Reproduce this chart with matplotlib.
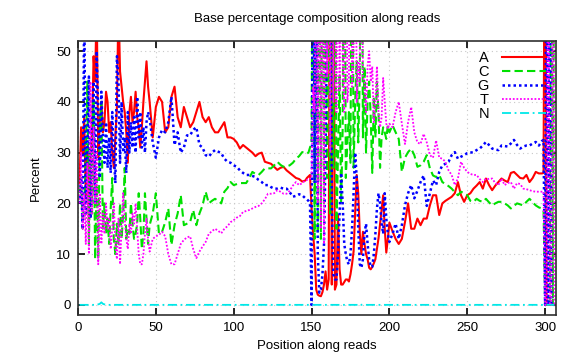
import matplotlib
matplotlib.use('Agg')
import matplotlib.pyplot as plt

plt.rcParams['font.family'] = ['Liberation Sans', 'DejaVu Sans']

# positions along reads (dense where the curves are noisy)
positions = (list(range(1, 47)) + list(range(48, 147, 2)) + list(range(147, 201))
             + list(range(202, 299, 2)) + list(range(299, 307)))

base_a = [
    24, 35, 30, 37, 21, 31, 16, 29, 33, 49,
    44, 60, 29, 36, 40, 34, 36, 42, 40, 34,
    36, 30, 27, 33, 39, 60, 46, 43, 40, 38,
    34, 28, 38, 41, 36, 38, 42, 37, 35, 31,
    35, 40, 44, 48, 43, 40,
    33, 39, 41, 40, 34, 35, 41, 43, 37, 35,
    39, 37, 35, 36, 38, 40, 37, 36, 37, 35,
    34, 34, 35, 36, 33, 33, 32.7, 32, 30.8, 31.5,
    31, 30.5, 30, 29.3, 29.8, 30, 28.2, 28, 27.8, 27.2,
    26.6, 27, 27.2, 26.5, 26, 25.5, 25, 24.8, 24.3, 24.5,
    25, 25.3, 25.6, 19, 14, 10, 3, 2, 1.8, 1.7,
    2.5, 4, 6.6, 3, 5, 100, 4, 100, 3, 4,
    17.7, 7, 4, 4, 4.5, 5, 5, 4.6, 6, 8,
    10.5, 18, 25.6, 22, 14, 10, 14.4, 12, 10, 9,
    7.3, 7, 7.5, 8.2, 9, 11, 13.1, 16, 19, 21.6,
    15, 10.3, 13, 16.2,
    14.5, 13, 12, 13, 16.3, 20, 15, 15, 17, 15.7,
    17, 17, 19.6, 21.6, 21.6, 17.7, 20, 20.5, 20.9, 21.3,
    22, 24.2, 21.6, 20.3, 21.6, 22, 22.9, 23.5, 24.2, 22.9,
    24.9, 23.6, 22.6, 23.5, 24.2, 24.9, 24.5, 24.2, 26, 26.2,
    25.6, 25, 24.9, 25.6, 24.2, 25, 26.2, 25.9, 25.9,
    26, 100, 0, 0, 0, 0, 0, 0,
]

base_c = [
    22, 25, 15, 20, 28, 44, 12, 30, 18, 40,
    9, 25, 9, 35, 40, 15, 20, 14, 17, 12,
    19, 25, 13, 10, 16, 12, 20, 13, 18, 27,
    13, 15, 14, 20, 16, 13, 14, 16, 22, 17,
    11, 14, 22, 17, 12, 15.7,
    18, 22, 14, 14.4, 16.3, 19, 11.8, 15.7, 18, 21.6,
    15.7, 16, 16.3, 18.7, 15.7, 18, 19.6, 22.3, 20, 20.5,
    20.9, 20.5, 20, 22.3, 23, 24.2, 23.6, 23.8, 24, 24,
    24, 25, 26.2, 25.8, 25.6, 26.2, 26.9, 26.9, 26.9, 27.5,
    28.2, 27.6, 27.2, 27.3, 27.5, 28, 28.8, 29.3, 30.1, 30,
    29.8, 30, 31, 32, 100, 13, 100, 14, 100, 13,
    100, 20, 100, 25, 100, 18, 100, 27, 100, 15,
    30, 45, 20, 35, 100, 25, 32, 38, 28, 100,
    27, 40, 48, 32, 45, 100, 33, 47, 30, 40,
    44, 37, 26, 41, 33, 44, 38, 27, 33, 35,
    34, 32.7, 35.4, 34,
    35.4, 34, 32.7, 26.2, 29, 30.1, 30.8, 29.5, 27.2, 27.5,
    28.2, 29.5, 26.9, 25.5, 25.2, 25.6, 24.2, 23.8, 23.4, 22.9,
    22.2, 21.6, 22.3, 22, 21.6, 20.5, 20.3, 20.9, 20.5, 20.3,
    20.9, 20.2, 19.6, 20, 20.3, 20.3, 20, 19.6, 19, 19.5,
    20, 19.8, 19.6, 20.3, 20.9, 20.2, 19.6, 19.2, 19,
    18.7, 0, 0, 0, 0, 100, 0, 100,
]

base_g = [
    20, 25, 15, 60, 18, 30, 45, 17, 35, 44,
    20, 50, 38, 25, 42, 33, 28, 36, 27, 33,
    26, 38, 30, 24, 49, 44, 28, 40, 30, 33,
    26, 38, 30, 36, 31, 37, 30, 41, 33, 38,
    31, 35, 30, 36, 38, 36.7,
    32, 29, 33, 34.5, 34, 36, 41, 31.5, 34, 30,
    31, 33.4, 33.4, 34.5, 35, 31.5, 31, 29.5, 29.2, 30,
    30.5, 30.2, 29.9, 28.8, 28.2, 28, 27.5, 27.2, 26.5, 26,
    25.6, 25.6, 25.4, 25.2, 24.6, 24.2, 23.6, 23.6, 23.2, 22.9,
    22.9, 23.1, 22.9, 22.9, 22.2, 21.3, 21.5, 21.8, 21.6, 21,
    20.8, 20.5, 20, 0, 100, 24, 100, 10, 2.4, 3,
    6, 12, 30, 60, 100, 100, 20, 6, 5, 5,
    10, 18, 26, 20, 12, 10, 8.5, 8, 10, 15,
    22, 30, 25, 15, 8, 7.3, 9, 14, 16, 12,
    9, 7.5, 7.5, 10, 14, 19, 22, 20, 16, 14,
    22, 17, 14, 12.4,
    14, 16, 13, 15.7, 19.6, 22, 23.6, 21, 22.5, 24.2,
    25.5, 19.5, 22, 24.5, 23.6, 26.2, 27.5, 27.8, 28.2, 29.5,
    30.1, 28.8, 29.2, 29.5, 29.9, 30, 30.1, 30.5, 30.8, 31.4,
    32.1, 31.5, 30.8, 30.6, 30.5, 31.4, 31.3, 31.2, 31.8, 32.5,
    31.5, 30.8, 31.2, 31.4, 31.4, 31.8, 32.1, 31.4, 32.3,
    32.5, 0, 100, 0, 100, 0, 0, 0,
]

base_t = [
    20, 30, 15, 22, 12, 28, 10, 44, 18, 35,
    20, 30, 8, 22, 12, 18, 14, 20, 15, 17,
    11, 15, 20, 12, 9, 17, 8, 15, 22, 17,
    13, 11, 16, 14, 18, 16, 20, 15, 10, 8,
    8, 10, 14, 17, 13, 10.5,
    13, 13.5, 13.8, 14.4, 13.5, 10, 8, 8, 10, 12,
    12.8, 13.3, 13.5, 11, 9.2, 10.5, 11.5, 12.4, 14, 14.5,
    15, 14.6, 14.1, 15, 15.5, 16.3, 16.7, 17.2, 17.5, 18.3,
    18.5, 18.7, 19, 19.3, 19.5, 20, 20.8, 21.9, 21.9, 22,
    22.6, 22.3, 21.9, 21.9, 22.5, 23.5, 24.2, 23.6, 24, 24.5,
    24.6, 24.8, 24.9, 25, 43, 38, 100, 20, 100, 15,
    100, 12, 100, 45, 100, 30, 100, 40, 100, 38,
    100, 42, 100, 48, 38, 100, 40, 44, 100, 43,
    50, 100, 40, 48, 44, 100, 45, 43.9, 38, 47,
    50, 44, 47, 36, 40, 47, 38, 35, 37, 44.7,
    40, 35.7, 34.7, 35.7,
    35, 38, 40, 35.7, 31.7, 36, 39, 34, 32, 31.7,
    33.7, 32, 29.5, 29, 32.4, 29, 28.8, 28.2, 26.5, 25.6,
    23.6, 24.9, 28.2, 27, 26.2, 25.8, 25.6, 25.6, 24.8, 24.2,
    24.9, 24.8, 24.9, 24, 23.6, 24.9, 23.6, 24, 24.2, 22.9,
    24, 23.8, 22.9, 22.8, 22.6, 22.4, 22.3, 22.3, 22.3,
    22.3, 0, 0, 100, 0, 0, 100, 0,
]

n_positions = [1, 12, 14, 15, 16, 18, 40, 41, 42, 100, 180, 181, 182, 306]
base_n = [0, 0, 0.2, 0.5, 0.2, 0, 0, 0.15, 0, 0, 0, 0.2, 0, 0]

fig = plt.figure(figsize=(5.76, 3.6), dpi=100)
ax = fig.add_axes([78 / 576, 45 / 360, 478 / 576, 274 / 360])

ax.plot(positions, base_a, color='#ff0000', lw=1.5, label='A')
ax.plot(positions, base_c, color='#00e000', lw=1.5, dashes=(4, 2), label='C')
ax.plot(positions, base_g, color='#0000ff', lw=1.8, dashes=(1, 1.2), label='G')
ax.plot(positions, base_t, color='#ff00ff', lw=1.3, dashes=(1, 1), label='T')
ax.plot(n_positions, base_n, color='#00e8e8', lw=1.3, dashes=(5, 2, 1, 2), label='N')

ax.set_xlim(0, 307)
ax.set_ylim(-2, 52)
ax.set_xticks([0, 50, 100, 150, 200, 250, 300])
ax.set_yticks([0, 10, 20, 30, 40, 50])
ax.tick_params(direction='in', length=5, width=1.2, top=True, right=True,
               labelsize=9.5, pad=5)
ax.grid(True, color='#c8c8c8', linestyle=(0, (1, 3)), lw=0.8)
for s in ax.spines.values():
    s.set_linewidth(1.2)
    s.set_color('#303030')

ax.text(0.5, 1 + 22 / 274, 'Base percentage composition along reads',
        transform=ax.transAxes, ha='center', va='center', fontsize=9.5)
ax.set_xlabel('Position along reads', fontsize=9.5, labelpad=4)
ax.set_ylabel('Percent', fontsize=9.5, labelpad=10)

ax.legend(loc='upper right', frameon=False, markerfirst=False, fontsize=10.5,
          handlelength=3.0, labelspacing=0.0, handletextpad=0.9,
          borderaxespad=0.3, borderpad=0.4)

fig.savefig('out.png', dpi=100)
